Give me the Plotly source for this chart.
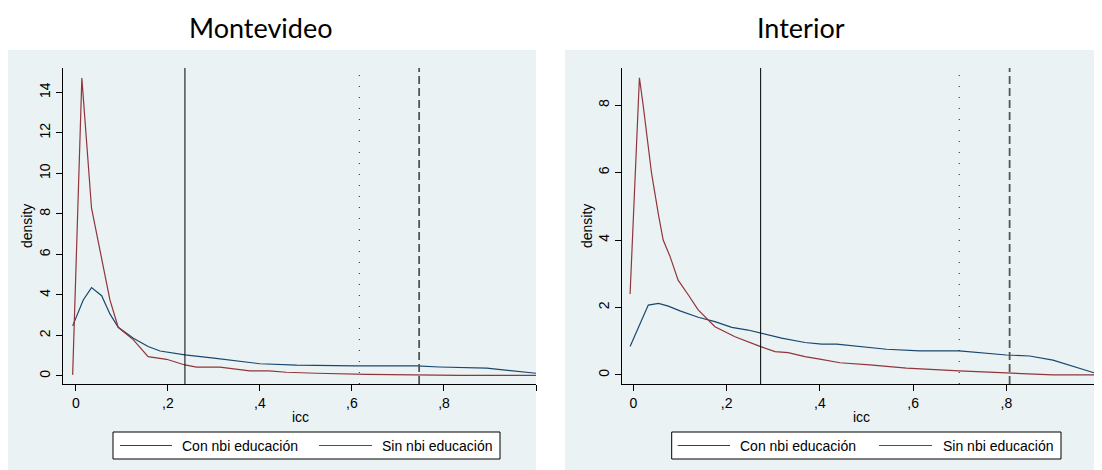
import plotly.graph_objects as go

# page body has an 8px margin, so the figure is drawn offset by (8, 8)
OFF = 8
W, H = 1102 - OFF, 470 - OFF

# ---- data ----
panel_titles = ["Montevideo", "Interior"]
series_names = ["Con nbi educación", "Sin nbi educación"]

mvd_x_con = [-0.007, 0.016, 0.034, 0.056, 0.074, 0.092, 0.125, 0.157, 0.183, 0.237, 0.30, 0.35, 0.40, 0.48, 0.607, 0.74, 0.79, 0.893, 1.0]
mvd_y_con = [2.47, 3.75, 4.36, 3.96, 3.06, 2.40, 1.86, 1.45, 1.23, 1.04, 0.88, 0.75, 0.60, 0.53, 0.49, 0.49, 0.44, 0.38, 0.13]

mvd_x_sin = [-0.007, 0.013, 0.034, 0.052, 0.074, 0.092, 0.125, 0.157, 0.197, 0.237, 0.262, 0.313, 0.378, 0.42, 0.457, 0.523, 0.632, 0.835, 1.0]
mvd_y_sin = [0.05, 14.7, 8.28, 6.2, 3.75, 2.4, 1.78, 0.95, 0.82, 0.54, 0.43, 0.43, 0.25, 0.25, 0.18, 0.13, 0.08, 0.03, 0.03]

int_x_con = [-0.007, 0.032, 0.054, 0.075, 0.1, 0.139, 0.175, 0.211, 0.246, 0.273, 0.318, 0.368, 0.404, 0.436, 0.543, 0.614, 0.699, 0.8, 0.85, 0.9, 0.943, 0.986, 1.0]
int_y_con = [0.84, 2.07, 2.12, 2.04, 1.9, 1.71, 1.58, 1.41, 1.33, 1.24, 1.09, 0.96, 0.91, 0.91, 0.76, 0.71, 0.71, 0.59, 0.56, 0.44, 0.25, 0.07, 0.03]

int_x_sin = [-0.007, 0.013, 0.021, 0.039, 0.054, 0.064, 0.079, 0.096, 0.118, 0.139, 0.175, 0.218, 0.273, 0.304, 0.332, 0.368, 0.40, 0.443, 0.507, 0.586, 0.699, 0.8, 0.9, 1.0]
int_y_sin = [2.4, 8.81, 8.0, 5.98, 4.74, 4.0, 3.5, 2.81, 2.37, 1.93, 1.43, 1.13, 0.84, 0.69, 0.66, 0.54, 0.47, 0.36, 0.30, 0.2, 0.12, 0.05, 0.0, 0.0]

# reference lines: solid, dotted, dashed
mvd_vlines = [0.237, 0.616, 0.746]
int_vlines = [0.273, 0.699, 0.807]

x_tickvals = [0, 0.2, 0.4, 0.6, 0.8, 1.0]
x_ticktext_left = ["0", ",2", ",4", ",6", ",8", ""]
x_ticktext_right = ["0", ",2", ",4", ",6", ",8", "1"]
y_ticks_left = [0, 2, 4, 6, 8, 10, 12, 14]
y_ticks_right = [0, 2, 4, 6, 8]

# ---- styling ----
BLUE = "#1a476f"
RED = "#90353b"
PANEL = "#eaf2f3"
GRID = "#eaf2f3"
AX = "#000000"
FONT = "Liberation Sans, Arial, sans-serif"


def px(x):
    return (x - OFF) / W


def py(y):
    return 1 - (y - OFF) / H


fig = go.Figure()

fig.add_trace(go.Scatter(x=mvd_x_con, y=mvd_y_con, mode="lines", line=dict(color=BLUE, width=1.2),
                         name=series_names[0], xaxis="x", yaxis="y", showlegend=False))
fig.add_trace(go.Scatter(x=mvd_x_sin, y=mvd_y_sin, mode="lines", line=dict(color=RED, width=1.2),
                         name=series_names[1], xaxis="x", yaxis="y", showlegend=False))
fig.add_trace(go.Scatter(x=int_x_con, y=int_y_con, mode="lines", line=dict(color=BLUE, width=1.2),
                         name=series_names[0], xaxis="x2", yaxis="y2", showlegend=False))
fig.add_trace(go.Scatter(x=int_x_sin, y=int_y_sin, mode="lines", line=dict(color=RED, width=1.2),
                         name=series_names[1], xaxis="x2", yaxis="y2", showlegend=False))

common_x = dict(showgrid=False, zeroline=False, showline=True, linecolor=AX, linewidth=1,
                ticks="outside", ticklen=6, tickcolor=AX, tickwidth=1,
                tickfont=dict(family=FONT, size=14, color="#000"), tickvals=x_tickvals)
common_y = dict(showgrid=True, gridcolor=GRID, gridwidth=1, zeroline=False, showline=True,
                linecolor=AX, linewidth=1, ticks="outside", ticklen=6, tickcolor=AX, tickwidth=1,
                tickangle=-90, tickfont=dict(family=FONT, size=14, color="#000"))

ydom = [py(384), py(68)]

fig.update_layout(
    width=W, height=H,
    margin=dict(l=0, r=0, t=0, b=0),
    paper_bgcolor="white",
    plot_bgcolor="white",
    xaxis=dict(domain=[px(63), px(536)], range=[-0.028, 1.0], ticktext=x_ticktext_left, anchor="y", **common_x),
    yaxis=dict(domain=ydom, range=[-0.4, 15.2], tickvals=y_ticks_left, anchor="x", **common_y),
    xaxis2=dict(domain=[px(621.7), px(1101)], range=[-0.025, 1.003], ticktext=x_ticktext_right, anchor="y2", **common_x),
    yaxis2=dict(domain=ydom, range=[-0.27, 9.1], tickvals=y_ticks_right, anchor="x2", **common_y),
)

shapes = []
# grey panel backgrounds
shapes.append(dict(type="rect", xref="paper", yref="paper", x0=px(8), x1=px(536), y0=py(470), y1=py(50),
                   fillcolor=PANEL, line=dict(width=0), layer="below"))
shapes.append(dict(type="rect", xref="paper", yref="paper", x0=px(565), x1=px(1102), y0=py(470), y1=py(50),
                   fillcolor=PANEL, line=dict(width=0), layer="below"))

styles = [dict(color="#000", width=1, dash="solid"),
          dict(color="#222", width=1, dash="1px,10px"),
          dict(color="#555", width=1.8, dash="8px,4px")]
for xa, ya, vals in [("x", "y", mvd_vlines), ("x2", "y2", int_vlines)]:
    for v, st in zip(vals, styles):
        shapes.append(dict(type="line", xref=xa, yref=ya + " domain", x0=v, x1=v, y0=0, y1=1,
                           line=st, layer="above"))

annotations = []
# legends
for (bx0, bx1, l1a, l1b, t1, l2a, l2b, t2) in [
    (113, 500, 120, 172, 180, 319, 372, 380),
    (671.7, 1061, 677.7, 730, 738, 879, 932, 940.7),
]:
    shapes.append(dict(type="rect", xref="paper", yref="paper", x0=px(bx0), x1=px(bx1), y0=py(459), y1=py(432),
                       fillcolor="white", line=dict(color="#000", width=1)))
    shapes.append(dict(type="line", xref="paper", yref="paper", x0=px(l1a), x1=px(l1b), y0=py(445.5), y1=py(445.5),
                       line=dict(color=BLUE, width=1.2)))
    shapes.append(dict(type="line", xref="paper", yref="paper", x0=px(l2a), x1=px(l2b), y0=py(445.5), y1=py(445.5),
                       line=dict(color=RED, width=1.2)))
    annotations.append(dict(x=px(t1), y=py(445.5), xref="paper", yref="paper", text=series_names[0],
                            showarrow=False, xanchor="left", yanchor="middle",
                            font=dict(family=FONT, size=14, color="#000")))
    annotations.append(dict(x=px(t2), y=py(445.5), xref="paper", yref="paper", text=series_names[1],
                            showarrow=False, xanchor="left", yanchor="middle",
                            font=dict(family=FONT, size=14, color="#000")))

# axis titles
for cx in [300, 861]:
    annotations.append(dict(x=px(cx), y=py(417), xref="paper", yref="paper", text="icc", showarrow=False,
                            xanchor="center", yanchor="middle", font=dict(family=FONT, size=14, color="#000")))
for cx in [27, 587]:
    annotations.append(dict(x=px(cx), y=py(226), xref="paper", yref="paper", text="density", showarrow=False,
                            textangle=-90, xanchor="center", yanchor="middle",
                            font=dict(family=FONT, size=14, color="#000")))

# panel titles
for cx, t in zip([261, 800.5], panel_titles):
    annotations.append(dict(x=px(cx), y=py(28), xref="paper", yref="paper", text=t, showarrow=False,
                            xanchor="center", yanchor="middle", font=dict(family="Lato, sans-serif", size=27, color="#000")))

fig.update_layout(shapes=shapes, annotations=annotations)

fig.write_html("out.html")
